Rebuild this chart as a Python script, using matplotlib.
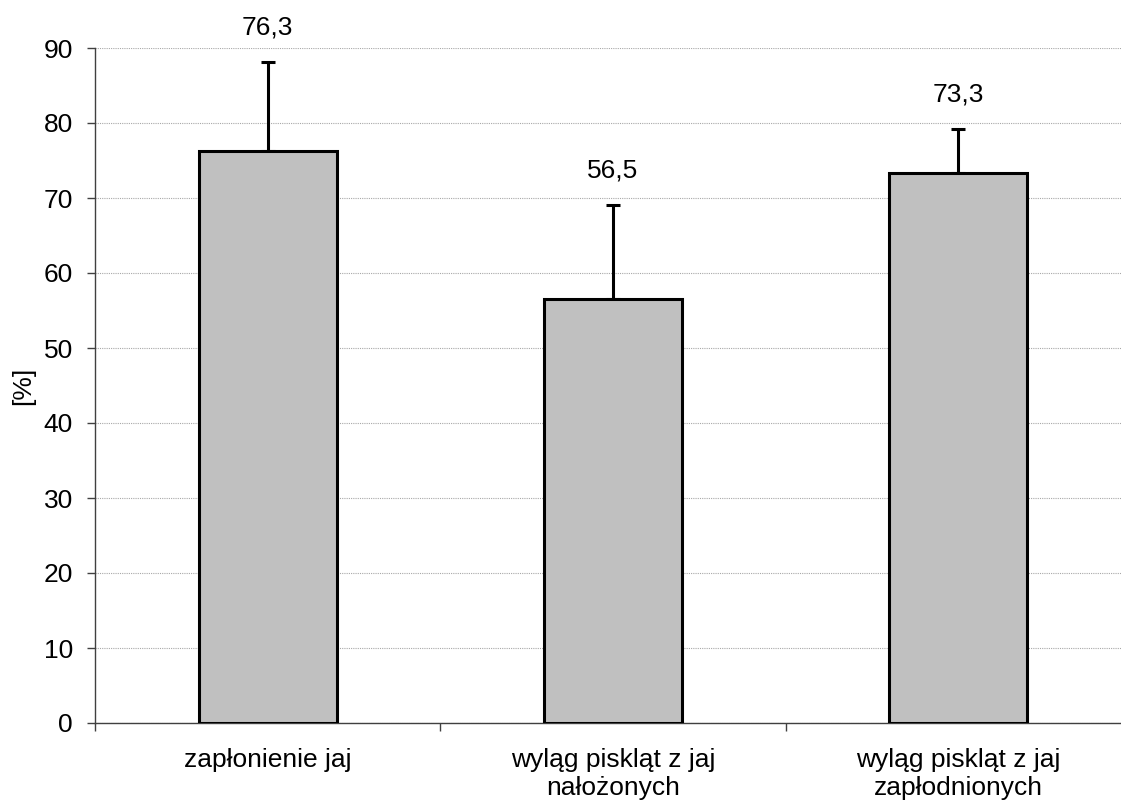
import matplotlib.pyplot as plt
from matplotlib.ticker import FixedLocator

plt.rcParams['font.family'] = ['Liberation Sans', 'DejaVu Sans']

# data
categories = ["zapłonienie jaj", "wyląg piskląt z jaj\nnałożonych", "wyląg piskląt z jaj\nzapłodnionych"]
values = [76.3, 56.5, 73.3]
errors = [11.9, 12.6, 5.9]
value_labels = ["76,3", "56,5", "73,3"]

fig = plt.figure(figsize=(11.21, 8), dpi=100)
ax = fig.add_axes([95 / 1121, 77 / 800, 1036 / 1121, 675 / 800])

x = list(range(len(categories)))
ax.bar(x, values, width=0.4, color='#c0c0c0', edgecolor='black', linewidth=2.2, zorder=3)
ax.errorbar(x, values, yerr=[[0] * len(errors), errors], fmt='none', ecolor='black',
            elinewidth=2.2, capsize=5, capthick=2.2, zorder=2)

# value labels above error bars
for xi, v, e, lab in zip(x, values, errors, value_labels):
    ax.annotate(lab, (xi, v + e), xytext=(0, 16), textcoords='offset points',
                ha='center', va='bottom', fontsize=19)

ax.set_xlim(-0.5, 2.5)
ax.set_ylim(0, 90)
ax.set_yticks(range(0, 91, 10))
ax.tick_params(axis='y', labelsize=19, length=6, width=1, color='#404040', pad=10)

# category boundaries as major ticks, names as minor ticks
ax.xaxis.set_major_locator(FixedLocator([-0.5, 0.5, 1.5, 2.5]))
ax.set_xticklabels([])
ax.set_xticks(x, minor=True)
ax.set_xticklabels(categories, minor=True, fontsize=19, linespacing=1.2)
ax.tick_params(axis='x', which='major', length=6, width=1, color='#404040')
ax.tick_params(axis='x', which='minor', length=0, pad=18)

ax.yaxis.grid(True, linestyle=(0, (1, 1)), color='#a8a8a8', linewidth=0.8, zorder=0)
ax.set_axisbelow(True)

for s in ['top', 'right']:
    ax.spines[s].set_visible(False)
for s in ['left', 'bottom']:
    ax.spines[s].set_color('#404040')
    ax.spines[s].set_linewidth(1)

ax.set_ylabel('[%]', fontsize=19, labelpad=6)

fig.savefig('out.png', dpi=100)
